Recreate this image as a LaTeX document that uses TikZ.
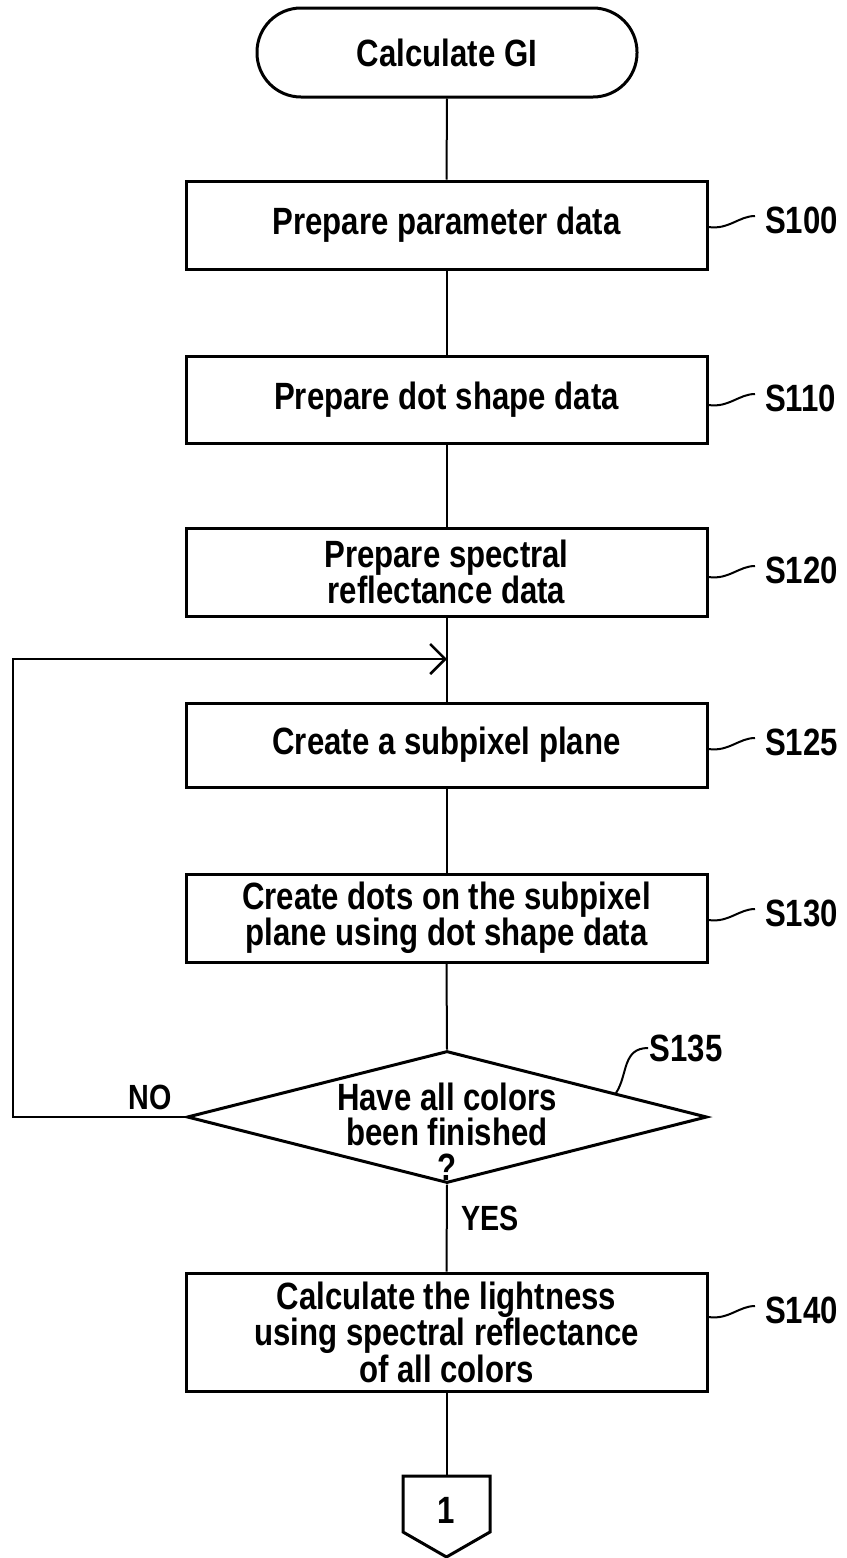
\documentclass[tikz,border=0pt]{standalone}
\usepackage{fontspec}
\setmainfont{Liberation Sans}[FakeStretch=0.82]
\usetikzlibrary{shapes.geometric,arrows.meta,calc}

\begin{document}
\begin{tikzpicture}[x=1pt,y=-1pt,
  font=\bfseries\fontsize{38}{35}\selectfont,
  stepbox/.style={draw, line width=3pt, minimum width=521pt, align=center, inner sep=0pt},
  link/.style={line width=2pt},
  tag/.style={anchor=west, inner sep=2pt},
  squiggle/.style={line width=2pt},
  outline/.style={line width=3pt, line join=miter}]

% page and background
\fill[white] (0,0) rectangle (846,1558);
\useasboundingbox (0,0) rectangle (846,1558);

% start terminal
\node[draw, line width=3pt, rounded corners=44pt, minimum width=380pt,
      minimum height=89pt] (start) at (447,52.5) {Calculate GI};

% process steps
\node[stepbox, minimum height=88pt] (s100) at (446.5,225) {Prepare parameter data};
\node[stepbox, minimum height=87pt] (s110) at (446.5,399.5) {Prepare dot shape data};
\node[stepbox, minimum height=88pt] (s120) at (446.5,572) {Prepare spectral\\reflectance data};
\node[stepbox, minimum height=84pt] (s125) at (446.5,745) {Create a subpixel plane};
\node[stepbox, minimum height=88pt] (s130) at (446.5,918) {Create dots on the subpixel\\plane using dot shape data};

% decision
\node[draw, diamond, line width=3pt, minimum width=520pt, minimum height=132pt,
      inner sep=0pt] (d) at (447,1117) {};
\node[align=center] (dtext) at (447,1132) {Have all colors\\been finished\\?};

\node[stepbox, minimum height=118pt] (s140) at (446.5,1332)
  {Calculate the lightness\\using spectral reflectance\\of all colors};

% off-page connector
\coordinate (ctop) at (446.5,1476);
\draw[outline] (403,1476) -- (490,1476) -- (490,1532) -- (446.5,1557) -- (403,1532) -- cycle;
\node (c1) at (446.5,1510) {1};

% step labels
\node[tag] (l100) at (763,220) {S100};
\node[tag] (l110) at (763,398) {S110};
\node[tag] (l120) at (763,570) {S120};
\node[tag] (l125) at (763,742) {S125};
\node[tag] (l130) at (763,913) {S130};
\node[tag] (l140) at (763,1310) {S140};
\node (l135) at (686,1048) {S135};

\foreach \b/\l in {s100/l100, s110/l110, s120/l120, s125/l125, s130/l130, s140/l140}{
  \draw[squiggle] ($(\b.east |- \l.west)+(0,7)$) .. controls +(20,3) and +(-16,0) ..
        ($(\l.west)+(-8,-4)$);
}
\coordinate (e135) at ($(d.north)!0.646!(d.east)$);
\draw[squiggle] (e135) .. controls (628,1075) and (622,1048) .. ($(l135.west)+(2,0)$);

% flow lines
\draw[link] (start.south) -- (s100.north);
\draw[link] (s100.south) -- (s110.north);
\draw[link] (s110.south) -- (s120.north);
\draw[link] (s120.south) -- (s125.north);
\draw[link] (s125.south) -- (s130.north);
\draw[link] (s130.south) -- (d.north);
\draw[link] (d.south) -- (s140.north);
\draw[link] (s140.south) -- (ctop);

% return loop
\coordinate (loopL) at (13,1117);
\coordinate (loopIn) at (447,659);
\draw[link, -{Straight Barb[length=15pt, width=30pt, line width=2.5pt]}]
  (d.west) -- (loopL) |- (loopIn);

% branch labels
\node[font=\bfseries\fontsize{35}{35}\selectfont] (no) at (150,1097) {NO};
\node[font=\bfseries\fontsize{35}{35}\selectfont] (yes) at (490,1218) {YES};

\end{tikzpicture}
\end{document}
